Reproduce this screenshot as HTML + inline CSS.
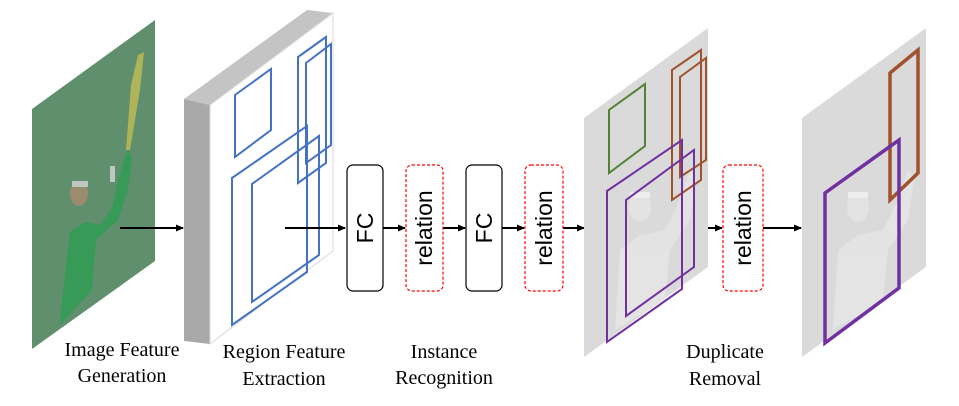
<!DOCTYPE html>
<html><head><meta charset="utf-8"><style>
html,body{margin:0;padding:0;background:#fff;width:959px;height:406px;overflow:hidden}
</style></head><body>
<svg width="959" height="406" viewBox="0 0 959 406" xmlns="http://www.w3.org/2000/svg">
<defs>
<marker id="ah" markerWidth="8" markerHeight="8" refX="7" refY="4" orient="auto" markerUnits="userSpaceOnUse">
<path d="M0,0.5 L8,4 L0,7.5 Z" fill="#000"/></marker>
</defs>
<!-- image panel -->
<polygon points="32,109 155,20 155,261 32,349" fill="#5f8f6c"/>
<g opacity="0.75">
<polygon points="62,300 70,232 85,222 100,225 112,208 118,180 124,160 128,150 132,158 128,190 118,220 96,240 92,290 60,325" fill="#2a9e50"/>
<ellipse cx="79" cy="194" rx="9" ry="12" fill="#b08a70"/>
<rect x="72" y="181" width="16" height="6" fill="#ddd"/>
<rect x="110" y="166" width="5" height="16" fill="#ddd"/>
<polygon points="126,150 131,85 138,55 144,52 140,90 130,150" fill="#c8c050"/>
</g>
<!-- region block -->
<polygon points="184,99 307,10 333,13 210,105" fill="#c4c4c4"/>
<polygon points="184,99 210,105 210,344 184,341" fill="#a9a9a9"/>
<polygon points="210,105 333,13 333,251 210,344" fill="#fff" stroke="#d8d8d8" stroke-width="1"/>
<g fill="none" stroke="#4472c4" stroke-width="2">
<polygon points="235,95 271,69 271,130 235,157"/>
<polygon points="232,178 307,126 307,272 232,325"/>
<polygon points="252,184 319,136 319,255 252,302"/>
<polygon points="298,57 326,37 326,163 298,183"/>
<polygon points="306,63 331,44 331,145 306,163"/>
</g>
<!-- arrows -->
<g stroke="#000" stroke-width="2" marker-end="url(#ah)">
<line x1="120" y1="228" x2="183" y2="228"/>
<line x1="285" y1="228" x2="345" y2="228"/>
<line x1="383" y1="228" x2="405" y2="228"/>
<line x1="443" y1="228" x2="465" y2="228"/>
<line x1="502" y1="228" x2="524" y2="228"/>
<line x1="563" y1="228" x2="584" y2="228"/>
<line x1="674" y1="228" x2="722" y2="228"/>
<line x1="763" y1="228" x2="801" y2="228"/>
</g>
<!-- FC & relation boxes -->
<rect x="347" y="165" width="36" height="126" rx="6" fill="#fff" stroke="#000" stroke-width="1.2"/>
<rect x="466" y="165" width="36" height="126" rx="6" fill="#fff" stroke="#000" stroke-width="1.2"/>
<g fill="#fff" stroke="#f00" stroke-width="1.2" stroke-dasharray="3,2">
<rect x="406" y="165" width="37" height="126" rx="6"/>
<rect x="525" y="165" width="38" height="126" rx="6"/>
<rect x="723" y="165" width="40" height="126" rx="6"/>
</g>
<g font-family="Liberation Sans, sans-serif" font-size="23" fill="#000" text-anchor="middle">
<text transform="translate(373,228) rotate(-90)">FC</text>
<text transform="translate(492,228) rotate(-90)">FC</text>
<text transform="translate(432,228) rotate(-90)">relation</text>
<text transform="translate(552,228) rotate(-90)">relation</text>
<text transform="translate(751,228) rotate(-90)">relation</text>
</g>
<!-- panel 3 -->
<polygon points="584,118 708,28 708,267 584,357" fill="#dadada"/>
<g fill="#e6e6e6" opacity="0.8">
<ellipse cx="640" cy="207" rx="11" ry="15"/>
<rect x="630" y="192" width="20" height="6" fill="#f2f2f2"/>
<polygon points="615,330 620,250 640,235 665,230 680,200 690,170 696,180 690,220 670,250 665,300"/>
</g>
<g fill="none" stroke-width="2">
<polygon points="609,110 645,84 645,146 609,173" stroke="#548235"/>
<polygon points="672,70 701,50 701,180 672,200" stroke="#a0522d"/>
<polygon points="680,77 706,58 706,160 680,177" stroke="#a0522d"/>
<polygon points="607,191 682,140 682,289 607,342" stroke="#7030a0"/>
<polygon points="626,200 694,150 694,267 626,316" stroke="#7030a0"/>
</g>
<!-- panel 4 -->
<polygon points="802,118 926,28 926,267 802,357" fill="#dadada"/>
<g fill="#e6e6e6" opacity="0.8">
<ellipse cx="858" cy="207" rx="11" ry="15"/>
<rect x="848" y="192" width="20" height="6" fill="#f2f2f2"/>
<polygon points="833,330 838,250 858,235 883,230 898,200 908,170 914,180 908,220 888,250 883,300"/>
</g>
<g fill="none" stroke-width="3.5">
<polygon points="890,73 918,50 918,173 890,200" stroke="#a0522d"/>
<polygon points="825,193 899,140 899,288 825,343" stroke="#7030a0"/>
</g>
<!-- labels -->
<g font-family="Liberation Serif, serif" font-size="20" fill="#000" text-anchor="middle">
<text x="122" y="356">Image Feature</text>
<text x="122" y="382">Generation</text>
<text x="284" y="358">Region Feature</text>
<text x="284" y="385">Extraction</text>
<text x="444" y="358">Instance</text>
<text x="444" y="384">Recognition</text>
<text x="725" y="358">Duplicate</text>
<text x="725" y="385">Removal</text>
</g>
</svg>
</body></html>
